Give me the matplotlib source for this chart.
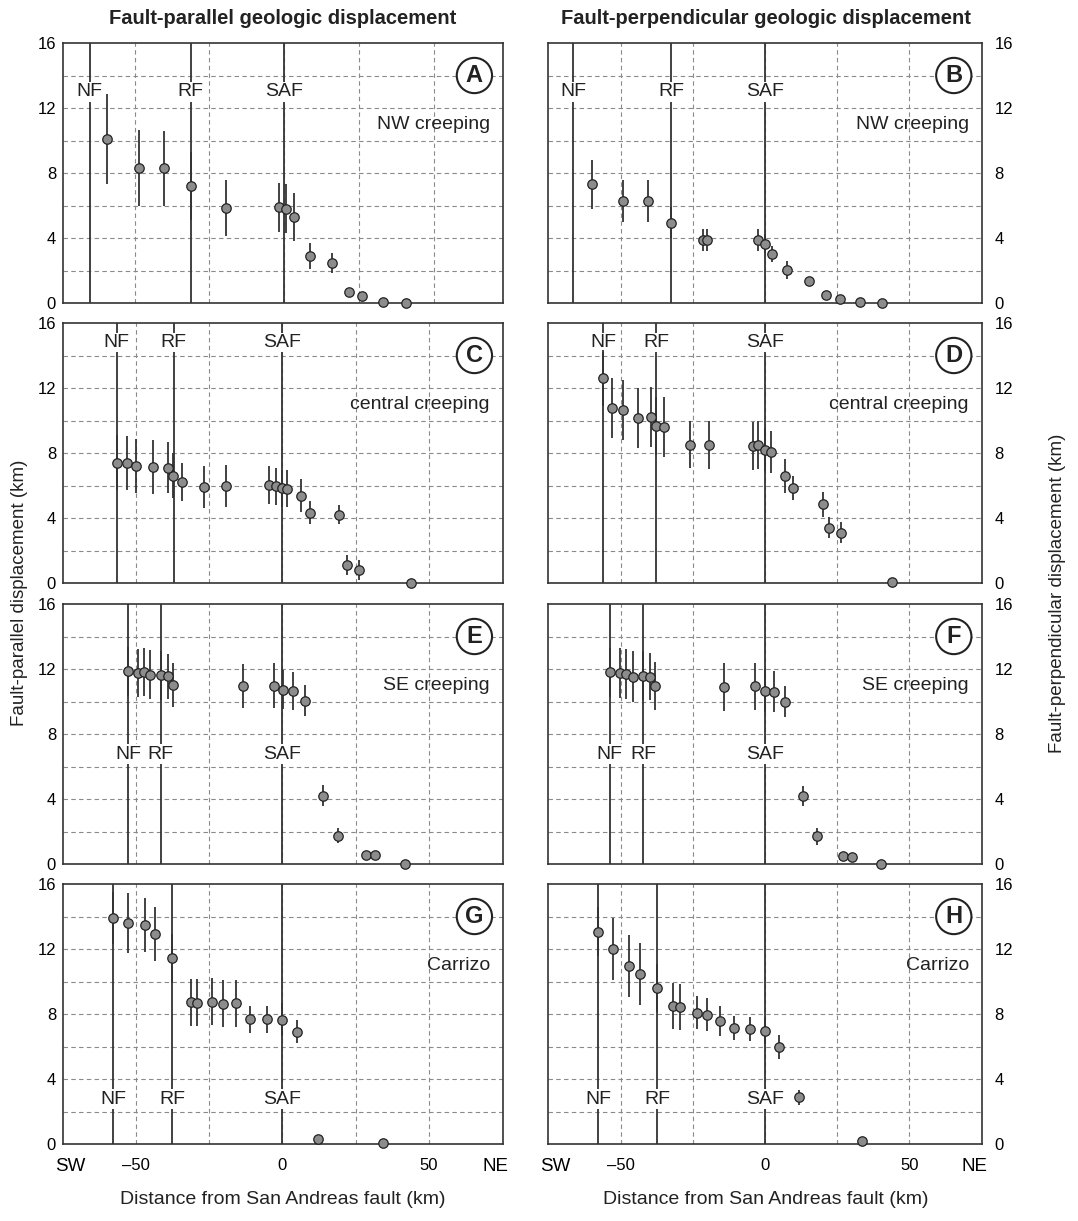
import matplotlib
matplotlib.use("Agg")
import matplotlib.pyplot as plt

plt.rcParams["font.family"] = ["Liberation Sans", "DejaVu Sans"]

# ---- data (km) ----
regions = ["NW creeping", "central creeping", "SE creeping", "Carrizo"]
letters = [["A", "B"], ["C", "D"], ["E", "F"], ["G", "H"]]
fault_names = ["NF", "RF", "SAF"]
fault_label_y = [13.0, 14.8, 6.75, 2.75]
grid_x = [-50, -25, 0, 25, 50]
grid_y = [2, 4, 6, 8, 10, 12, 14]

# fault-parallel (left column)
par_x = [
    [-59.1, -48.5, -40.1, -31.3, -19.4, -1.7, 0.45, 3.2, 8.6, 15.9, 21.5, 25.9, 32.8, 40.7],
    [-56.5, -53.1, -50.0, -44.2, -39.1, -37.4, -34.3, -26.6, -19.4, -4.6, -2.3, -0.2, 1.5,
     6.3, 9.3, 19.4, 21.9, 26.0, 44.0],
    [-52.7, -49.4, -47.2, -45.0, -41.5, -39.0, -37.3, -13.5, -2.7, 0.2, 3.6, 7.7, 13.8,
     18.8, 28.5, 31.7, 41.7],
    [-57.6, -52.6, -46.7, -43.4, -37.5, -31.2, -29.2, -24.0, -20.1, -15.8, -11.0, -5.2,
     -0.2, 5.1, 12.2, 34.3],
]
par_y = [
    [10.1, 8.3, 8.3, 7.2, 5.85, 5.9, 5.8, 5.3, 2.9, 2.45, 0.7, 0.45, 0.05, 0.0],
    [7.41, 7.38, 7.2, 7.14, 7.1, 6.6, 6.22, 5.93, 5.97, 6.03, 5.95, 5.83, 5.8, 5.37, 4.33,
     4.21, 1.11, 0.8, 0.0],
    [11.86, 11.76, 11.8, 11.66, 11.62, 11.55, 11.02, 10.96, 10.98, 10.72, 10.63, 10.06,
     4.19, 1.74, 0.53, 0.53, 0.0],
    [13.89, 13.58, 13.46, 12.9, 11.43, 8.72, 8.70, 8.76, 8.62, 8.66, 7.69, 7.69, 7.65,
     6.91, 0.29, 0.08],
]
par_err = [
    [2.75, 2.35, 2.3, 2.1, 1.7, 1.5, 1.5, 1.5, 0.8, 0.6, 0.25, 0.25, 0.0, 0.0],
    [1.7, 1.66, 1.68, 1.68, 1.57, 1.37, 1.18, 1.3, 1.3, 1.18, 1.15, 1.15, 1.15, 1.0, 0.7,
     0.6, 0.6, 0.6, 0.0],
    [1.5, 1.48, 1.49, 1.48, 1.5, 1.4, 1.38, 1.35, 1.37, 1.2, 1.17, 0.98, 0.65, 0.45, 0.0,
     0.0, 0.0],
    [1.6, 1.85, 1.65, 1.66, 1.5, 1.45, 1.43, 1.45, 1.45, 1.45, 0.83, 0.83, 1.0, 0.72,
     0.0, 0.0],
]
par_faults = [[-65.0, -31.3, 0.0], [-56.5, -37.1, 0.0], [-52.6, -41.5, 0.0], [-57.6, -37.5, 0.0]]

# fault-perpendicular (right column)
perp_x = [
    [-59.7, -49.2, -40.6, -32.4, -21.6, -19.9, -2.4, 0.1, 2.4, 7.6, 15.2, 21.0, 25.8,
     32.8, 40.5],
    [-56.1, -52.8, -49.3, -44.1, -39.4, -37.6, -34.9, -26.1, -19.3, -4.3, -2.3, 0.0, 2.2,
     6.8, 9.6, 19.9, 22.3, 26.3, 44.1],
    [-53.8, -50.2, -48.2, -45.7, -42.1, -39.7, -38.0, -14.2, -3.3, 0.0, 3.0, 6.8, 13.2,
     18.0, 27.1, 30.0, 40.2],
    [-57.7, -52.5, -47.1, -43.1, -37.3, -31.9, -29.3, -23.6, -20.1, -15.7, -10.6, -5.1,
     0.0, 5.0, 11.9, 33.5],
]
perp_y = [
    [7.3, 6.28, 6.3, 4.93, 3.9, 3.9, 3.87, 3.66, 3.03, 2.04, 1.33, 0.47, 0.27, 0.04, 0.0],
    [12.62, 10.77, 10.63, 10.17, 10.22, 9.66, 9.62, 8.51, 8.49, 8.41, 8.47, 8.21, 8.08,
     6.6, 5.83, 4.84, 3.41, 3.1, 0.05],
    [11.8, 11.74, 11.68, 11.53, 11.6, 11.53, 10.94, 10.9, 10.94, 10.67, 10.61, 9.98, 4.17,
     1.70, 0.51, 0.43, 0.0],
    [13.07, 12.02, 10.97, 10.46, 9.6, 8.51, 8.43, 8.08, 7.96, 7.57, 7.12, 7.08, 6.93,
     5.99, 2.87, 0.18],
]
perp_err = [
    [1.5, 1.3, 1.3, 0.95, 0.68, 0.68, 0.68, 0.6, 0.5, 0.55, 0.3, 0.25, 0.25, 0.0, 0.0],
    [1.7, 1.85, 1.85, 1.85, 1.85, 1.8, 1.85, 1.45, 1.45, 1.47, 1.47, 1.3, 1.3, 1.05,
     0.75, 0.75, 0.63, 0.63, 0.0],
    [1.5, 1.55, 1.55, 1.55, 1.5, 1.46, 1.48, 1.48, 1.46, 1.3, 1.26, 0.95, 0.63, 0.5, 0.0,
     0.0, 0.0],
    [1.5, 1.9, 1.92, 1.92, 1.5, 1.42, 1.4, 1.0, 1.02, 0.92, 0.74, 0.74, 0.8, 0.74, 0.46,
     0.0],
]
perp_faults = [[-66.3, -32.4, 0.0], [-56.1, -37.6, 0.0], [-53.8, -42.1, 0.0], [-57.7, -37.3, 0.0]]

left_xlims = [(-73.9, 73.0), (-74.8, 75.2), (-74.8, 75.2), (-74.8, 75.2)]
right_xlim = (-75.1, 75.1)

DARK = "#333333"
W, H = 1078, 1221
fig = plt.figure(figsize=(W / 100, H / 100), dpi=100)

row_bottoms = [303, 583, 864, 1144]  # pixel rows of the axes bottoms
ax_h = 260


def draw_panel(ax, xs, ys, errs, faults, label_y, letter, region, xlim, right, bottom):
    ax.set_xlim(*xlim)
    ax.set_ylim(0, 16)
    for s in ax.spines.values():
        s.set_color(DARK)
        s.set_linewidth(1.2)
    # dashed grid
    for gx in grid_x:
        ax.axvline(gx, color="#8a8a8a", ls=(0, (4, 3)), lw=0.8, zorder=1)
    for gy in grid_y:
        ax.axhline(gy, color="#8a8a8a", ls=(0, (4, 3)), lw=0.8, zorder=1)
    ax.set_yticks([0, 4, 8, 12, 16])
    ax.tick_params(which="both", length=0)
    if right:
        ax.yaxis.tick_right()
        ax.tick_params(axis="y", labelsize=12, pad=9)
    else:
        ax.tick_params(axis="y", labelsize=12, pad=5)
    if bottom:
        x0, x1 = xlim
        ax.set_xticks([x0 + 2.5, -50, 0, 50, x1 - 2.5])
        ax.set_xticklabels(["SW", "\u201350", "0", "50", "NE"])
        ax.tick_params(axis="x", labelsize=12, pad=10)
        lbls = ax.get_xticklabels()
        lbls[0].set_fontsize(13.5)
        lbls[-1].set_fontsize(13.5)
    else:
        ax.set_xticks([])

    # faults
    for fx, name in zip(faults, fault_names):
        ax.axvline(fx, color=DARK, lw=1.3, zorder=2)
        ax.text(fx, label_y, name, ha="center", va="center", fontsize=14, color="#222222",
                zorder=3, bbox=dict(fc="white", ec="none", pad=1.0))

    # data
    cont = ax.errorbar(xs, ys, yerr=errs, fmt="o", ms=6.8, mfc="#8c8c8c", mec="#222222",
                       mew=0.9, ecolor=DARK, elinewidth=1.3, capsize=0, zorder=4)
    for art in cont.get_children():
        art.set_clip_on(False)

    ax.text(0.935, 0.875, letter, transform=ax.transAxes, ha="center", va="center",
            fontsize=17, fontweight="bold", color="#222222", zorder=6,
            bbox=dict(boxstyle="circle,pad=0.26", fc="white", ec="#222222", lw=1.5))
    ax.text(0.97, 0.685, region, transform=ax.transAxes, ha="right", va="center",
            fontsize=14, color="#222222", zorder=6)


for r in range(4):
    b = 1 - row_bottoms[r] / H
    h = ax_h / H
    axl = fig.add_axes([63 / W, b, 440 / W, h])
    draw_panel(axl, par_x[r], par_y[r], par_err[r], par_faults[r], fault_label_y[r],
               letters[r][0], regions[r], left_xlims[r], False, r == 3)
    axr = fig.add_axes([548 / W, b, 434 / W, h])
    draw_panel(axr, perp_x[r], perp_y[r], perp_err[r], perp_faults[r], fault_label_y[r],
               letters[r][1], regions[r], right_xlim, True, r == 3)

fig.text(283 / W, 1 - 18 / H, "Fault-parallel geologic displacement", ha="center",
         va="center", fontsize=14.5, fontweight="bold", color="#222222")
fig.text(766 / W, 1 - 18 / H, "Fault-perpendicular geologic displacement", ha="center",
         va="center", fontsize=14.5, fontweight="bold", color="#222222")
fig.text(20 / W, 1 - 593 / H, "Fault-parallel displacement (km)", rotation=90,
         ha="center", va="center", fontsize=13.5, color="#222222")
fig.text(1057 / W, 1 - 593 / H, "Fault-perpendicular displacement (km)", rotation=90,
         ha="center", va="center", fontsize=13.5, color="#222222")
fig.text(283 / W, 1 - 1200 / H, "Distance from San Andreas fault (km)", ha="center",
         va="center", fontsize=14, color="#222222")
fig.text(766 / W, 1 - 1200 / H, "Distance from San Andreas fault (km)", ha="center",
         va="center", fontsize=14, color="#222222")

fig.savefig("out.png", dpi=100)
